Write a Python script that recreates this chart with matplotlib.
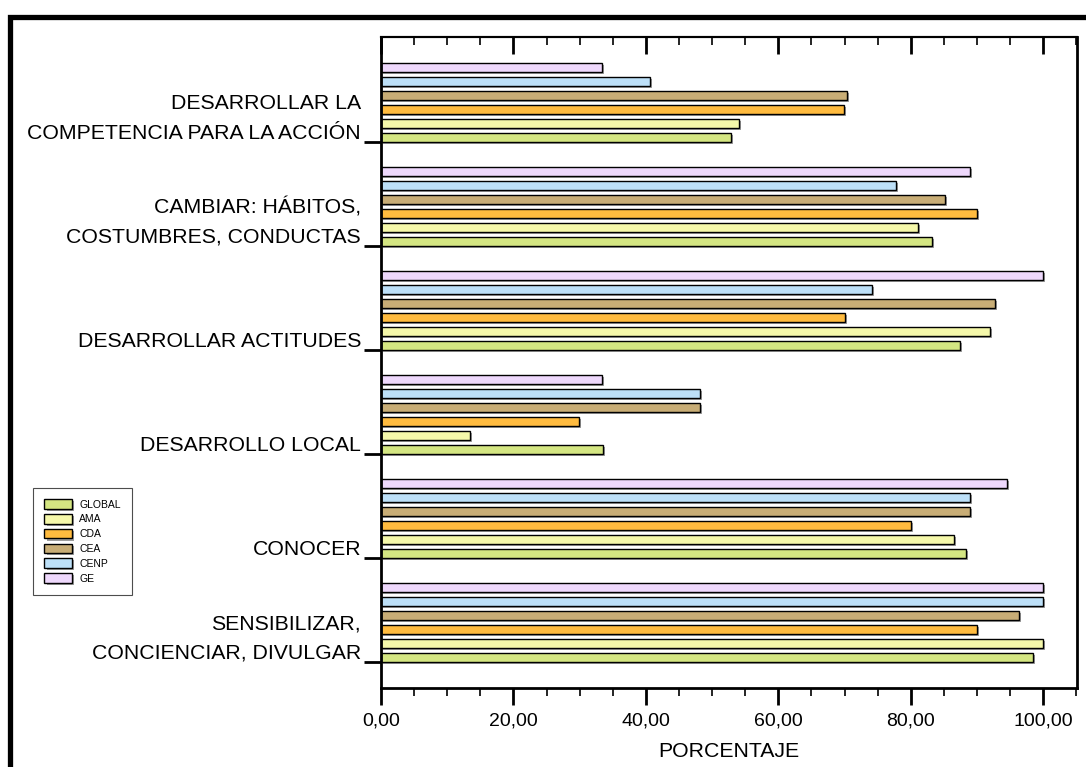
import numpy as np
import matplotlib
matplotlib.use('Agg')
import matplotlib.pyplot as plt
import matplotlib.patheffects as pe
from matplotlib.lines import Line2D
from matplotlib.ticker import FuncFormatter, MultipleLocator, NullFormatter

plt.rcParams['font.family'] = 'Liberation Sans'

# categories, bottom to top
categorias = ['SENSIBILIZAR,\nCONCIENCIAR, DIVULGAR',
              'CONOCER',
              'DESARROLLO LOCAL',
              'DESARROLLAR ACTITUDES',
              'CAMBIAR: HÁBITOS,\nCOSTUMBRES, CONDUCTAS',
              'DESARROLLAR LA\nCOMPETENCIA PARA LA ACCIÓN']

series = ['GLOBAL', 'AMA', 'CDA', 'CEA', 'CENP', 'GE']

global_v = [98.4, 88.3, 33.5, 87.4, 83.2, 52.9]
ama_v = [100.0, 86.5, 13.5, 91.9, 81.1, 54.0]
cda_v = [90.0, 80.0, 29.9, 70.0, 90.0, 69.9]
cea_v = [96.3, 88.9, 48.1, 92.7, 85.2, 70.4]
cenp_v = [100.0, 88.9, 48.1, 74.1, 77.8, 40.6]
ge_v = [100.0, 94.5, 33.3, 100.0, 88.9, 33.3]

valores = [global_v, ama_v, cda_v, cea_v, cenp_v, ge_v]
colores = ['#d4e682', '#f5f8aa', '#ffbb3f', '#c8ad76', '#bde0f8', '#eed8fc']

fig = plt.figure(figsize=(10.86, 7.67), dpi=100)
ax = fig.add_axes([381/1086, 1-688/767, (1077-381)/1086, (688-37)/767])

pos = np.arange(len(categorias))
paso = 0.1346
alto = 0.0913
sombra = [pe.SimplePatchShadow(offset=(1.5, -1.5), shadow_rgbFace='0.45', alpha=0.7), pe.Normal()]

for i, (nombre, vals) in enumerate(zip(series, valores)):
    bars = ax.barh(pos + i*paso + alto/2, vals, height=alto, color=colores[i],
                   edgecolor='black', linewidth=1.0, label=nombre)
    for b in bars:
        b.set_path_effects(sombra)

ax.set_xlim(0, 105.1)
ax.set_ylim(-0.25, 6.01)

# category labels, right aligned next to the group ticks
ax.set_yticks(pos)
ax.set_yticklabels([])
trans = matplotlib.transforms.blended_transform_factory(fig.transFigure, ax.transData)
for p, txt in zip(pos, categorias):
    ax.text(361/1086, p + 0.03, txt, transform=trans, ha='right', va='baseline',
            fontsize=15.3, linespacing=1.7, multialignment='right')

ax.xaxis.set_major_locator(MultipleLocator(20))
ax.xaxis.set_minor_locator(MultipleLocator(5))
ax.xaxis.set_major_formatter(FuncFormatter(lambda v, p: f'{v:.2f}'.replace('.', ',')))
ax.tick_params(axis='x', which='major', length=12, width=2, labelsize=14, pad=5.5,
               direction='out')
ax.tick_params(axis='x', which='minor', length=6, width=1.2, direction='out')
ax.tick_params(axis='y', which='major', length=12, width=2, direction='out')
ax.tick_params(axis='y', which='minor', left=False)
ax.set_xlabel('PORCENTAJE', fontsize=15.3, labelpad=9)

# top ticks pointing inwards
top = ax.secondary_xaxis('top')
top.xaxis.set_major_locator(MultipleLocator(20))
top.xaxis.set_minor_locator(MultipleLocator(5))
top.xaxis.set_major_formatter(NullFormatter())
top.tick_params(which='major', direction='in', length=12, width=2)
top.tick_params(which='minor', direction='in', length=6, width=1.2)
top.spines['top'].set_linewidth(1.5)

for s in ['left', 'bottom', 'right']:
    ax.spines[s].set_linewidth(2)
ax.spines['top'].set_linewidth(1.5)

leg = ax.legend(loc='lower left', bbox_to_anchor=(33/1086, 1-595/767),
                bbox_transform=fig.transFigure, fontsize=7.5, handlelength=2.6,
                handleheight=1.06, labelspacing=0.42, handletextpad=0.75,
                borderpad=1.1, fancybox=False, framealpha=1, borderaxespad=0)
leg.get_frame().set_edgecolor('0.3')
leg.get_frame().set_linewidth(0.8)

# marco de la figura
fig.add_artist(Line2D([10/1086, 10/1086, 1.0], [0.0, 1-16.5/767, 1-16.5/767],
                      transform=fig.transFigure, color='black', linewidth=3.8,
                      solid_joinstyle='miter'))

fig.savefig('out.png', dpi=100)
